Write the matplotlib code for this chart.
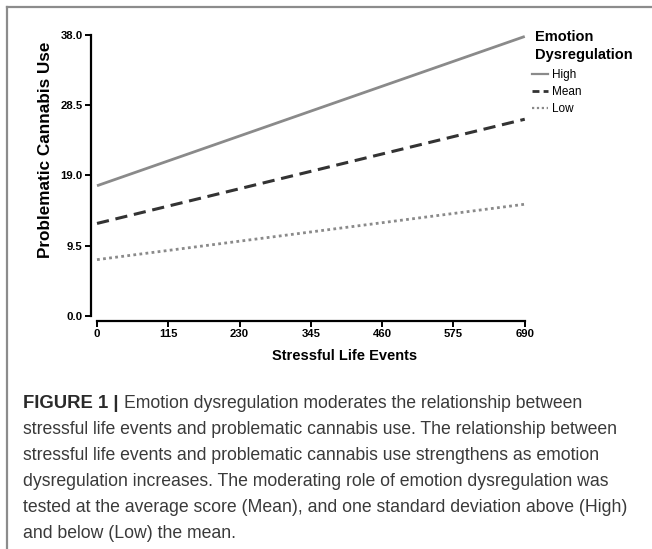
import numpy as np
import matplotlib.pyplot as plt
from matplotlib.lines import Line2D

plt.rcParams['font.family'] = ['Liberation Sans', 'DejaVu Sans']

# data
events = [0, 690]
high = [17.6, 37.8]
mean = [12.5, 26.6]
low = [7.6, 15.1]
xticks = [0, 115, 230, 345, 460, 575, 690]
yticks = [0.0, 9.5, 19.0, 28.5, 38.0]
groups = ['High', 'Mean', 'Low']

caption_first = 'Emotion dysregulation moderates the relationship between'
caption_lines = [
    "stressful life events and problematic cannabis use. The relationship between",
    "stressful life events and problematic cannabis use strengthens as emotion",
    "dysregulation increases. The moderating role of emotion dysregulation was",
    "tested at the average score (Mean), and one standard deviation above (High)",
    "and below (Low) the mean.",
]

W, H = 652, 549
fig = plt.figure(figsize=(6.52, 5.49), dpi=100)
ax = fig.add_axes([91 / W, 1 - 321 / H, (526 - 91) / W, (321 - 33.5) / H])

ax.plot(events, high, color='#8a8a8a', lw=2.0, solid_capstyle='butt', clip_on=False)
ax.plot(events, mean, color='#333333', lw=2.2, ls=(0, (4, 2.2)), clip_on=False)
ax.plot(events, low, color='#8a8a8a', lw=2.0, ls=(0, (1, 1.2)), clip_on=False)

ax.set_xlim(-9.7, 692)
ax.set_ylim(-0.7, 38.2)
for s in ['top', 'right']:
    ax.spines[s].set_visible(False)
ax.spines['left'].set_bounds(0, 38)
ax.spines['bottom'].set_bounds(0, 690)
ax.spines['left'].set_linewidth(1.6)
ax.spines['bottom'].set_linewidth(1.6)
ax.set_xticks(xticks)
ax.set_xticklabels([str(v) for v in xticks])
ax.set_yticks(yticks)
ax.set_yticklabels(['%.1f' % v for v in yticks])
ax.tick_params(width=1.4, length=4, labelsize=8.2, pad=2)
for lab in ax.get_xticklabels() + ax.get_yticklabels():
    lab.set_fontweight('bold')

ax.set_xlabel('Stressful Life Events', fontsize=10.5, fontweight='bold', va='center')
ax.xaxis.set_label_coords((345 - 91) / 435, -(356 - 321) / 287.5)
ax.set_ylabel('Problematic Cannabis Use', fontsize=12.3, fontweight='bold', va='center')
ax.yaxis.set_label_coords((46 - 91) / 435, (321 - 150) / 287.5)

# legend: title drawn as two lines, entries below
fig.text(535 / W, 1 - 37 / H, 'Emotion', fontsize=10.5, fontweight='bold', va='center')
fig.text(535 / W, 1 - 55 / H, 'Dysregulation', fontsize=10.5, fontweight='bold', va='center')
handles = [
    Line2D([], [], color='#8a8a8a', lw=1.6),
    Line2D([], [], color='#333333', lw=2.0, ls=(0, (2.5, 1.5))),
    Line2D([], [], color='#8a8a8a', lw=1.6, ls=(0, (1, 1.2))),
]
fig.legend(handles, groups, loc='upper left', bbox_to_anchor=(532 / W, 1 - 69 / H),
           frameon=False, fontsize=8.5, borderpad=0, borderaxespad=0,
           handlelength=1.35, handletextpad=0.35, labelspacing=0.44)

# frame lines
fig.add_artist(Line2D([7 / W, 7 / W], [0, 1 - 7 / H], color='#8c8c8c', lw=1.6))
fig.add_artist(Line2D([7 / W, 1], [1 - 7 / H, 1 - 7 / H], color='#8c8c8c', lw=1.6))

# caption
t0 = fig.text(23 / W, 1 - 404 / H, 'FIGURE 1 | ', fontsize=13.3, fontweight='bold',
              color='#2a2a2a', va='center')
ax.annotate(caption_first, xy=(1, 0.5), xycoords=t0, va='center', ha='left',
            fontsize=12.7, color='#3a3a3a')
for i, line in enumerate(caption_lines):
    fig.text(23 / W, 1 - (430 + 26 * i) / H, line, fontsize=12.7, color='#3a3a3a', va='center')

fig.savefig('out.png', dpi=100)
